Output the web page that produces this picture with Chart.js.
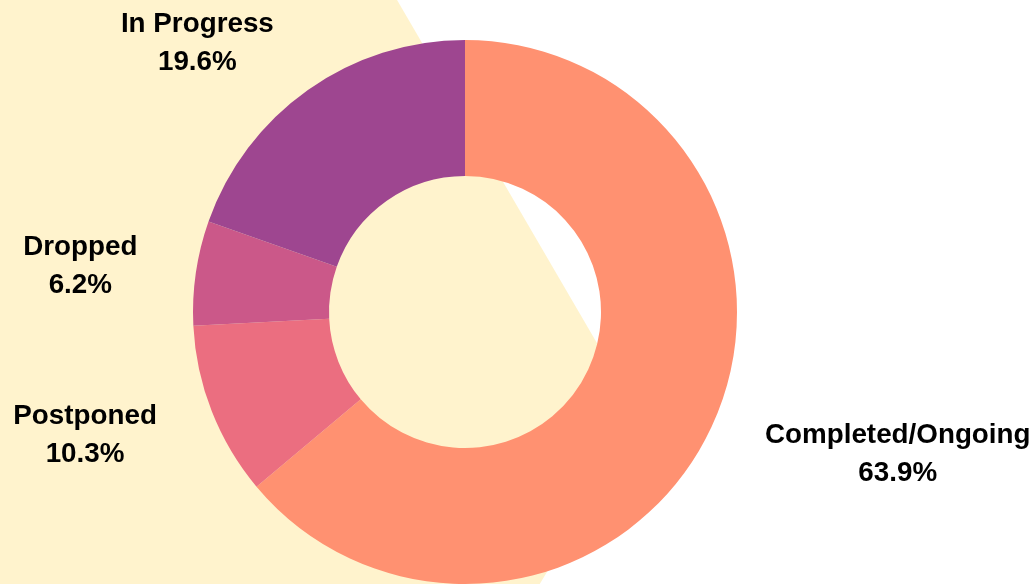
<!DOCTYPE html>
<html>
<head>
<meta charset="utf-8">
<script src="https://cdn.jsdelivr.net/npm/chart.js@4.4.1/dist/chart.umd.min.js"></script>
<style>
  html, body { margin: 0; padding: 0; background: #ffffff; }
  #wrap { width: 1034px; height: 584px; }
</style>
</head>
<body>
<div id="wrap"><canvas id="statusChart" width="1034" height="584"></canvas></div>
<script>
// Project status breakdown (percent)
const statusLabels = ['Completed/Ongoing', 'Postponed', 'Dropped', 'In Progress'];
const statusValues = [63.9, 10.3, 6.2, 19.6];
const statusColors = ['#FF9171', '#EB6E80', '#CB5889', '#9E4690'];

// Yellow backdrop shape behind the doughnut
const backdropPlugin = {
    id: 'backdrop',
    beforeDraw(chart) {
        const ctx = chart.ctx;
        const w = chart.width, h = chart.height;
        ctx.save();
        ctx.fillStyle = '#FFF3CD';
        ctx.beginPath();
        ctx.moveTo(0, 0);
        ctx.lineTo(w * 0.384, 0);
        ctx.lineTo(w * 0.619, h * 0.714);
        ctx.lineTo(w * 0.522, h);
        ctx.lineTo(0, h);
        ctx.closePath();
        ctx.fill();
        ctx.restore();
    }
};

// Outside labels: name + percentage, anchored on each slice's mid angle
const outsideLabels = {
    id: 'outsideLabels',
    afterDraw(chart) {
        const ctx = chart.ctx;
        const meta = chart.getDatasetMeta(0);
        ctx.save();
        ctx.font = 'bold 27.8px "Liberation Sans", Arial, sans-serif';
        ctx.fillStyle = '#000000';
        ctx.textAlign = 'center';
        ctx.textBaseline = 'middle';
        meta.data.forEach((arc, i) => {
            const mid = (arc.startAngle + arc.endAngle) / 2;
            const r = arc.outerRadius + 59;
            const ax = arc.x + Math.cos(mid) * r;
            const ay = arc.y + Math.sin(mid) * r + 2;
            const line1 = statusLabels[i];
            const line2 = statusValues[i].toFixed(1) + '%';
            const bw = Math.max(ctx.measureText(line1).width, ctx.measureText(line2).width);
            const cx = Math.cos(mid) >= 0 ? ax + bw / 2 : ax - bw / 2;
            ctx.fillText(line1, cx, ay - 19);
            ctx.fillText(line2, cx, ay + 19);
        });
        ctx.restore();
    }
};

const ctxStatus = document.getElementById('statusChart').getContext('2d');
new Chart(ctxStatus, {
    type: 'doughnut',
    data: {
        labels: statusLabels,
        datasets: [{
            data: statusValues,
            backgroundColor: statusColors,
            borderWidth: 0
        }]
    },
    options: {
        responsive: false,
        devicePixelRatio: 1,
        animation: false,
        cutout: '50%',
        layout: {
            padding: { top: 40, bottom: 0, left: 0, right: 104 }
        },
        plugins: {
            legend: { display: false },
            tooltip: { enabled: false }
        }
    },
    plugins: [backdropPlugin, outsideLabels]
});
</script>
</body>
</html>
